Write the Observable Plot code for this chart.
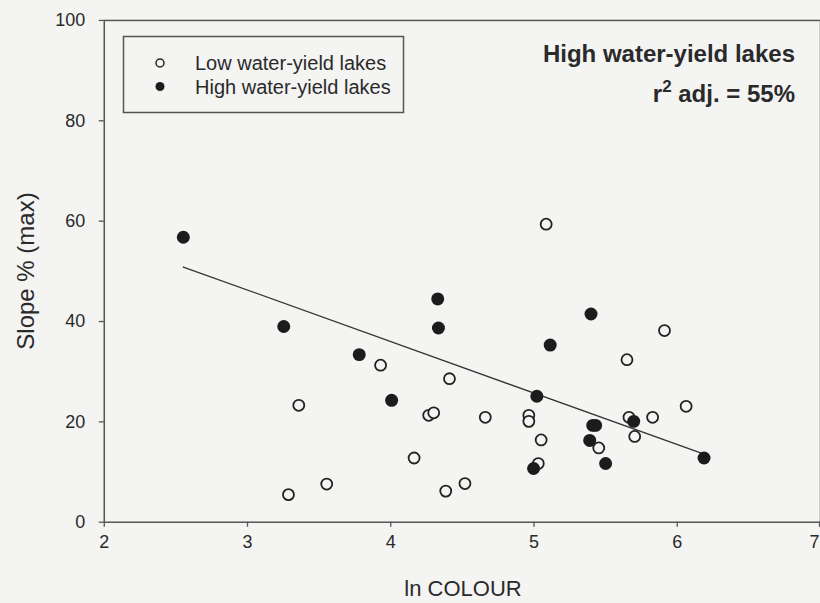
<!DOCTYPE html>
<html><head><meta charset="utf-8">
<script src="https://cdn.jsdelivr.net/npm/d3@7"></script>
<script src="https://cdn.jsdelivr.net/npm/@observablehq/plot@0.6"></script>
<style>
html,body{margin:0;padding:0;background:#f4f4f2;overflow:hidden;}
#wrap{position:relative;width:820px;height:603px;overflow:hidden;font-family:"Liberation Sans",Arial,sans-serif;}
#wrap svg{display:block;}
#overlay{position:absolute;left:0;top:0;pointer-events:none;}
</style>
</head><body>
<div id="wrap"></div>
<script>
// ---- data ----
const seriesNames = ["Low water-yield lakes", "High water-yield lakes"];
const lowX  = [5.085, 5.911, 5.649, 3.929, 4.41, 3.358, 6.062, 4.265, 4.30, 4.66, 4.964, 4.964, 5.663, 5.828, 5.703, 5.05, 5.452, 4.163, 5.03, 4.518, 3.553, 4.384, 3.286];
const lowY  = [59.4, 38.2, 32.4, 31.3, 28.6, 23.3, 23.1, 21.3, 21.8, 20.9, 21.3, 20.1, 20.9, 20.9, 17.1, 16.4, 14.8, 12.8, 11.7, 7.7, 7.6, 6.2, 5.5];
const highX = [2.552, 3.253, 3.78, 4.006, 4.328, 4.333, 5.113, 5.398, 5.02, 5.41, 5.43, 5.389, 5.50, 4.997, 5.696, 6.187];
const highY = [56.8, 39.0, 33.4, 24.3, 44.5, 38.7, 35.3, 41.5, 25.1, 19.3, 19.3, 16.3, 11.7, 10.7, 20.1, 12.8];
const xTicks = [2, 3, 4, 5, 6, 7];
const yTicks = [0, 20, 40, 60, 80, 100];
const xLabel = "ln COLOUR";
const yLabel = "Slope % (max)";
const fitTitle = "High water-yield lakes";
const fitStat = ["r", "2", " adj. = 55%"];

const low = lowX.map((x, i) => ({x, y: lowY[i]}));
const high = highX.map((x, i) => ({x, y: highY[i]}));

const bg = "#f4f4f2";
const ink = "#2a2a2a";
const font = '"Liberation Sans", Arial, sans-serif';
const fmt = d3.format("d");

const chart = Plot.plot({
  width: 822, height: 603,
  marginLeft: 104, marginRight: 0, marginTop: 20, marginBottom: 80,
  style: {background: "transparent", fontFamily: font, fontSize: "18px", color: ink},
  x: {domain: [2, 7]},
  y: {domain: [0, 100]},
  marks: [
    Plot.frame({stroke: "#555", strokeWidth: 1.5}),
    Plot.axisX({ticks: xTicks.slice(0, -1), tickFormat: fmt, tickSize: 5, tickPadding: 8, label: null, stroke: "#555", strokeWidth: 1.3, fill: ink, fontSize: 18}),
    Plot.axisX({ticks: xTicks.slice(-1), tickFormat: fmt, tickSize: 5, tickPadding: 8, label: null, stroke: "#555", strokeWidth: 1.3, fill: ink, fontSize: 18, textAnchor: "end", dx: -1}),
    Plot.axisY({ticks: yTicks, tickFormat: fmt, tickSize: 5, tickPadding: 14, label: null, stroke: "#555", strokeWidth: 1.3, fill: ink, fontSize: 18}),
    Plot.linearRegressionY(high, {x: "x", y: "y", ci: 0, stroke: "#333", strokeWidth: 1.3}),
    Plot.dot(low, {x: "x", y: "y", r: 5.5, stroke: "#222", strokeWidth: 1.8, fill: bg}),
    Plot.dot(high, {x: "x", y: "y", r: 6.5, fill: "#1c1c1c", stroke: "none"})
  ]
});
const wrap = document.getElementById("wrap");
wrap.appendChild(chart);

// ---- overlay: legend, annotation, axis titles ----
const svg = d3.select(wrap).append("svg")
  .attr("id", "overlay").attr("width", 820).attr("height", 603)
  .style("font-family", font).attr("fill", ink);

const lg = svg.append("g");
lg.append("rect").attr("x", 123.5).attr("y", 36.5).attr("width", 280).attr("height", 76)
  .attr("fill", "none").attr("stroke", "#555").attr("stroke-width", 1.5);
seriesNames.forEach((name, i) => {
  const cy = 63 + i * 23.5;
  lg.append("circle").attr("cx", 160).attr("cy", cy).attr("r", i ? 4.5 : 4)
    .attr("fill", i ? "#1c1c1c" : bg).attr("stroke", i ? "none" : "#222").attr("stroke-width", 1.5);
  lg.append("text").attr("x", 195).attr("y", cy + 7).attr("font-size", 20).text(name);
});

svg.append("text").attr("x", 795).attr("y", 62).attr("text-anchor", "end")
  .attr("font-weight", "bold").attr("font-size", 24).text(fitTitle);
const st = svg.append("text").attr("x", 795).attr("y", 102).attr("text-anchor", "end")
  .attr("font-weight", "bold").attr("font-size", 24);
st.append("tspan").text(fitStat[0]);
st.append("tspan").attr("dy", -10).attr("font-size", 17).text(fitStat[1]);
st.append("tspan").attr("dy", 10).text(fitStat[2]);

svg.append("text").attr("x", 463).attr("y", 596).attr("text-anchor", "middle")
  .attr("font-size", 22).text(xLabel);
svg.append("text").attr("transform", "translate(34,271) rotate(-90)").attr("text-anchor", "middle")
  .attr("font-size", 24).text(yLabel);
</script>
</body></html>
